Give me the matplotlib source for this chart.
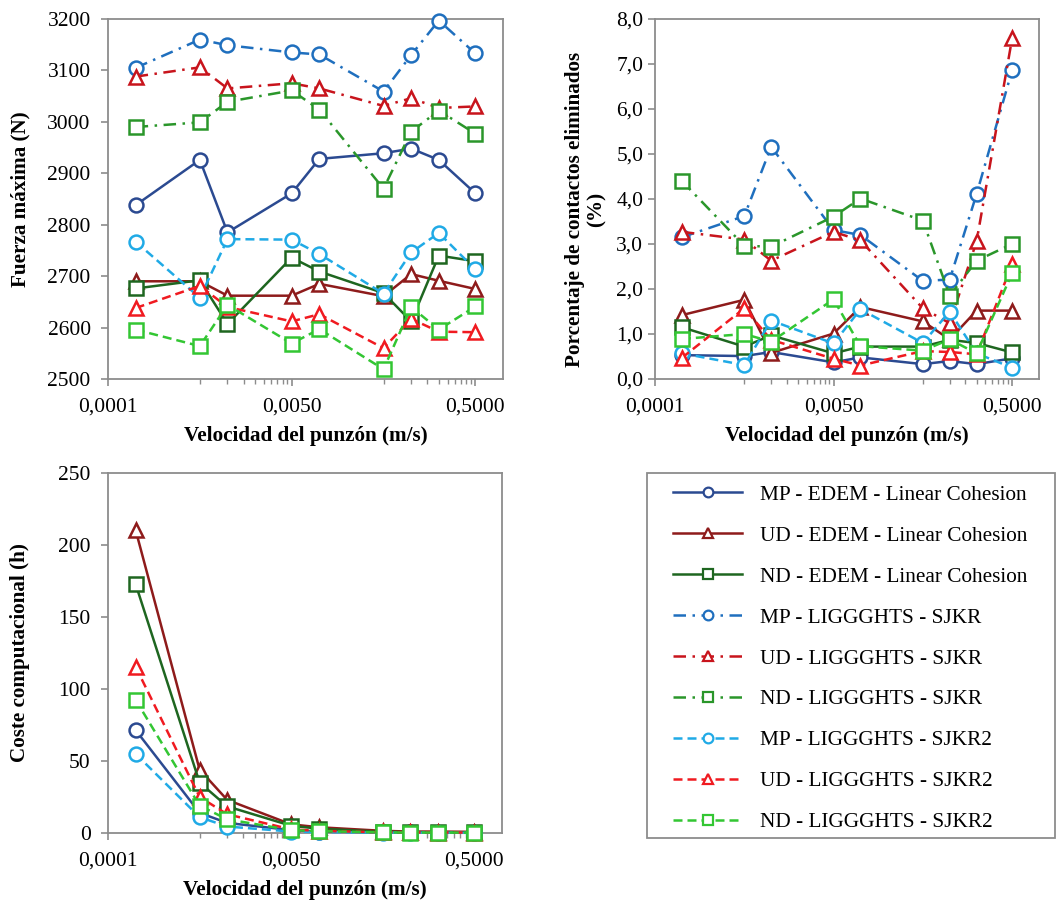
import matplotlib
matplotlib.use("Agg")
import matplotlib.pyplot as plt
from matplotlib.ticker import FixedLocator, FuncFormatter, NullFormatter
from matplotlib.lines import Line2D
from matplotlib.patches import Rectangle

plt.rcParams['font.family'] = ['Liberation Serif', 'DejaVu Serif']

# Punch velocity (m/s)
velocidad = [0.0001, 0.0005, 0.001, 0.005, 0.01, 0.05, 0.1, 0.2, 0.5]

# Maximum force (N)
fuerza_mp_edem = [2838, 2926, 2785, 2861, 2928, 2939, 2948, 2926, 2861]
fuerza_ud_edem = [2690, 2690, 2662, 2662, 2685, 2661, 2704, 2691, 2675]
fuerza_nd_edem = [2676, 2692, 2607, 2736, 2709, 2667, 2612, 2740, 2729]
fuerza_mp_sjkr = [3105, 3160, 3149, 3135, 3131, 3059, 3130, 3197, 3133]
fuerza_ud_sjkr = [3088, 3106, 3065, 3075, 3065, 3031, 3046, 3027, 3030]
fuerza_nd_sjkr = [2990, 2999, 3039, 3061, 3024, 2870, 2981, 3022, 2977]
fuerza_mp_sjkr2 = [2767, 2658, 2772, 2771, 2743, 2666, 2746, 2784, 2713]
fuerza_ud_sjkr2 = [2638, 2681, 2640, 2612, 2626, 2560, 2617, 2592, 2591]
fuerza_nd_sjkr2 = [2596, 2564, 2644, 2569, 2597, 2519, 2640, 2596, 2641]

# Removed contacts (%)
contactos_mp_edem = [0.53, 0.51, 0.60, 0.37, 0.48, 0.33, 0.40, 0.33, 0.46]
contactos_ud_edem = [1.42, 1.76, 0.58, 1.01, 1.60, 1.28, 0.88, 1.52, 1.52]
contactos_nd_edem = [1.15, 0.72, 0.97, 0.57, 0.72, 0.72, 0.87, 0.80, 0.59]
contactos_mp_sjkr = [3.15, 3.62, 5.16, 3.31, 3.20, 2.18, 2.21, 4.11, 6.86]
contactos_ud_sjkr = [3.27, 3.10, 2.63, 3.27, 3.08, 1.57, 1.24, 3.06, 7.57]
contactos_nd_sjkr = [4.40, 2.96, 2.94, 3.61, 4.01, 3.52, 1.85, 2.63, 3.00]
contactos_mp_sjkr2 = [0.57, 0.31, 1.30, 0.79, 1.55, 0.80, 1.50, 0.57, 0.25]
contactos_ud_sjkr2 = [0.47, 1.57, 0.87, 0.45, 0.30, 0.62, 0.60, 0.55, 2.55]
contactos_nd_sjkr2 = [0.89, 1.00, 0.83, 1.77, 0.73, 0.63, 0.88, 0.57, 2.35]

# Computational cost (h)
coste_mp_edem = [71.5, 14.0, 7.0, 2.0, 1.0, 0.5, 0.4, 0.3, 0.3]
coste_ud_edem = [210.5, 44.0, 23.0, 6.0, 4.0, 1.5, 1.0, 1.0, 0.8]
coste_nd_edem = [173.0, 35.0, 18.5, 5.0, 3.0, 0.8, 0.6, 0.5, 0.4]
coste_mp_sjkr2 = [55.0, 11.0, 4.5, 1.0, 0.6, 0.3, 0.2, 0.2, 0.1]
coste_ud_sjkr2 = [115.5, 25.0, 13.0, 2.5, 1.5, 0.5, 0.4, 0.3, 0.3]
coste_nd_sjkr2 = [92.5, 19.0, 9.5, 2.0, 1.3, 0.4, 0.3, 0.3, 0.2]

etiquetas = [
    "MP - EDEM - Linear Cohesion",
    "UD - EDEM - Linear Cohesion",
    "ND - EDEM - Linear Cohesion",
    "MP - LIGGGHTS - SJKR",
    "UD - LIGGGHTS - SJKR",
    "ND - LIGGGHTS - SJKR",
    "MP - LIGGGHTS - SJKR2",
    "UD - LIGGGHTS - SJKR2",
    "ND - LIGGGHTS - SJKR2",
]

SOLID = '-'
DASHDOT = (0, (5, 2.6, 1, 2.6))
DASHED = (0, (3.6, 2.0))

estilos = [
    dict(color='#2B4A91', ls=SOLID, marker='o'),
    dict(color='#8E1B1B', ls=SOLID, marker='^'),
    dict(color='#1E6620', ls=SOLID, marker='s'),
    dict(color='#1F6FBE', ls=DASHDOT, marker='o'),
    dict(color='#C8141C', ls=DASHDOT, marker='^'),
    dict(color='#2A962A', ls=DASHDOT, marker='s'),
    dict(color='#20AAE6', ls=DASHED, marker='o'),
    dict(color='#F01A20', ls=DASHED, marker='^'),
    dict(color='#33C633', ls=DASHED, marker='s'),
]

MS = {'o': 10.0, '^': 10.0, 's': 10.0}
FRAME = '#8C8C8C'
TICK_FS = 15.5
LABEL_FS = 15.2


def dibujar(ax, series, indices):
    for k, (vals, i) in enumerate(zip(series, indices)):
        st = estilos[i]
        ax.plot(velocidad, vals, color=st['color'], linestyle=st['ls'], lw=1.8,
                marker=st['marker'], ms=MS[st['marker']], mew=1.8,
                mfc='white', mec=st['color'], zorder=3 + k, clip_on=False)


def eje_x(ax, ypad):
    ax.set_xscale('log')
    ax.set_xlim(0.00005, 1.0)
    ax.xaxis.set_major_locator(FixedLocator([0.00005, 0.005, 0.5]))
    ax.xaxis.set_major_formatter(FuncFormatter(
        lambda v, p: {0: "0,0001", 1: "0,0050", 2: "0,5000"}.get(p, "")))
    menores = [0.0005 * k for k in range(1, 10)] + [0.05 * k for k in range(1, 10)]
    ax.xaxis.set_minor_locator(FixedLocator(menores))
    ax.xaxis.set_minor_formatter(NullFormatter())
    ax.set_xlabel("Velocidad del punzón (m/s)", fontsize=LABEL_FS,
                  fontweight='bold', labelpad=7)
    for s in ax.spines.values():
        s.set_color(FRAME)
        s.set_linewidth(1.3)
    ax.tick_params(axis='both', which='major', direction='out', length=5,
                   width=1.2, color=FRAME, labelsize=TICK_FS)
    ax.tick_params(axis='x', which='major', pad=8)
    ax.tick_params(axis='y', which='major', pad=ypad)
    ax.tick_params(axis='x', which='minor', direction='out', length=3.5,
                   width=1.0, color=FRAME)


fig = plt.figure(figsize=(10.57, 9.01), dpi=100)
W, H = 1057, 901


def px_axes(l, t, r, b):
    return fig.add_axes([l / W, 1 - b / H, (r - l) / W, (b - t) / H])


# Maximum force
ax1 = px_axes(108, 19, 503, 379)
dibujar(ax1, [fuerza_mp_edem, fuerza_ud_edem, fuerza_nd_edem,
              fuerza_mp_sjkr, fuerza_ud_sjkr, fuerza_nd_sjkr,
              fuerza_mp_sjkr2, fuerza_ud_sjkr2, fuerza_nd_sjkr2], range(9))
eje_x(ax1, 7.5)
ax1.set_ylim(2500, 3200)
ax1.set_yticks(range(2500, 3201, 100))
ax1.set_ylabel("Fuerza máxima (N)", fontsize=LABEL_FS, fontweight='bold')
ax1.yaxis.set_label_coords((30 - 108) / 395, 0.5)

# Removed contacts
ax2 = px_axes(655, 19, 1039, 379)
dibujar(ax2, [contactos_mp_edem, contactos_ud_edem, contactos_nd_edem,
              contactos_mp_sjkr, contactos_ud_sjkr, contactos_nd_sjkr,
              contactos_mp_sjkr2, contactos_ud_sjkr2, contactos_nd_sjkr2], range(9))
eje_x(ax2, 3.5)
ax2.set_ylim(0, 8)
ax2.set_yticks(range(0, 9))
ax2.yaxis.set_major_formatter(FuncFormatter(lambda v, p: f"{v:.1f}".replace('.', ',')))
ax2.set_ylabel("Porcentaje de contactos eliminados\n(%)", fontsize=LABEL_FS,
               fontweight='bold', linespacing=1.15)
ax2.yaxis.set_label_coords((607 - 655) / 384, 0.47)

# Computational cost
ax3 = px_axes(108, 473, 502, 833)
dibujar(ax3, [coste_mp_edem, coste_ud_edem, coste_nd_edem,
              coste_mp_sjkr2, coste_ud_sjkr2, coste_nd_sjkr2], [0, 1, 2, 6, 7, 8])
eje_x(ax3, 7.5)
ax3.set_ylim(0, 250)
ax3.set_yticks(range(0, 251, 50))
ax3.set_ylabel("Coste computacional (h)", fontsize=LABEL_FS, fontweight='bold')
ax3.yaxis.set_label_coords((30 - 108) / 394, 0.5)

# Shared legend: outlined box with the entries placed inside it
fig.patches.append(Rectangle((647 / W, 1 - 838 / H), (1055 - 647) / W, (838 - 473) / H,
                             transform=fig.transFigure, fill=False,
                             edgecolor=FRAME, lw=1.3))
handles = [Line2D([], [], color=st['color'], linestyle=st['ls'], lw=1.8,
                  marker=st['marker'], ms=7, mew=1.6, mfc='white', mec=st['color'])
           for st in estilos]
leg = fig.legend(handles, etiquetas, loc='upper left',
                 bbox_to_anchor=(673 / W, 1 - 485 / H),
                 frameon=False, fontsize=15.3, handlelength=3.25,
                 handletextpad=0.85, labelspacing=0.99,
                 borderpad=0.0, borderaxespad=0.0)

fig.savefig("out.png", dpi=100)
